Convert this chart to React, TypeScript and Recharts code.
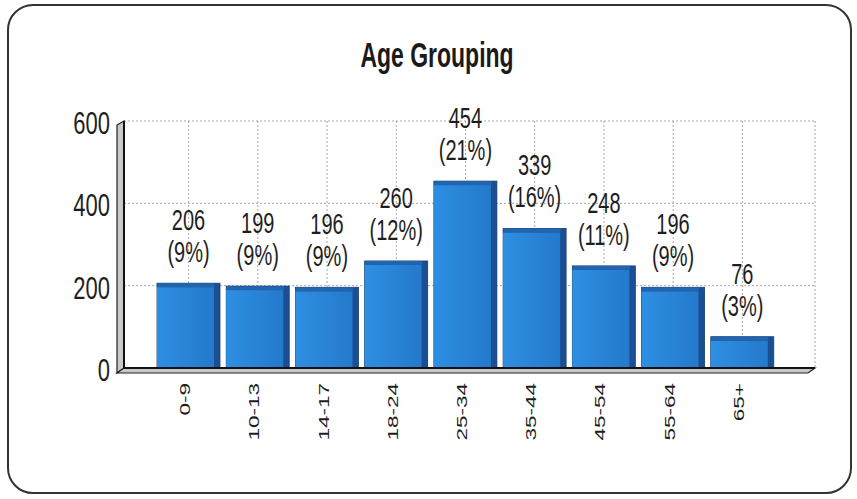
import React from 'react';
import * as R from 'recharts';
import { BarChart, Bar, XAxis, YAxis, CartesianGrid, LabelList, Customized } from 'recharts';

const categories = ['0-9', '10-13', '14-17', '18-24', '25-34', '35-44', '45-54', '55-64', '65+'];
const counts = [206, 199, 196, 260, 454, 339, 248, 196, 76];
const percents = ['9%', '9%', '9%', '12%', '21%', '16%', '11%', '9%', '3%'];
const yTicks = [0, 200, 400, 600];
const title = 'Age Grouping';

const data = categories.map((c, i) => ({ name: c, value: counts[i], pct: percents[i] }));

const FONT = "'Liberation Sans', Arial, sans-serif";
const W = 857;
const H = 499;

const Decor = () => {
  const hook = (R as any).usePlotArea;
  const p = hook ? hook() : null;
  const x = p ? p.x : 124;
  const y = p ? p.y : 121;
  const w = p ? p.width : 691;
  const h = p ? p.height : 247;
  const d = 7;
  return (
    <g>
      <polygon
        points={`${x - d},${y + 4} ${x},${y} ${x},${y + h} ${x - d},${y + h + 5}`}
        fill="#c9c9c9"
        stroke="#222"
        strokeWidth={1.2}
      />
      <polygon
        points={`${x},${y + h} ${x + w},${y + h} ${x + w - d},${y + h + 5} ${x - d},${y + h + 5}`}
        fill="#c9c9c9"
        stroke="#222"
        strokeWidth={1.2}
      />
    </g>
  );
};

const Title = () => (
  <text
    transform={`translate(437, 67) scale(1, 1.5)`}
    textAnchor="middle"
    fontFamily={FONT}
    fontWeight="bold"
    fontSize={23}
    fill="#1a1a1a"
  >
    {title}
  </text>
);

const Bar3D = (props: any) => {
  const { x, y, width, height } = props;
  if (!height || height <= 0) return null;
  const d = 6;
  const t = 4;
  return (
    <g>
      <rect x={x} y={y} width={width} height={height} fill="#1b4f94" stroke="#173c6c" strokeWidth={0.8} />
      <rect x={x} y={y + t} width={width - d} height={height - t} fill="url(#frontGrad)" />
      <rect x={x + 0.5} y={y} width={width - d} height={t} fill="#2164b0" />
    </g>
  );
};

const BarLabel = (props: any) => {
  const { x, y, width, index } = props;
  const cx = x + width / 2;
  return (
    <g fontFamily={FONT} fontSize={20} fill="#1e1e1e">
      <text transform={`translate(${cx}, ${y - 53}) scale(1, 1.5)`} textAnchor="middle">
        {counts[index]}
      </text>
      <text transform={`translate(${cx}, ${y - 21}) scale(1, 1.5)`} textAnchor="middle">
        ({percents[index]})
      </text>
    </g>
  );
};

const XTick = (props: any) => {
  const { x, y, payload } = props;
  return (
    <text
      transform={`translate(${x + 1.5}, ${y}) rotate(-90) scale(1.5, 1)`}
      textAnchor="end"
      fontFamily={FONT}
      fontSize={15}
      fill="#1e1e1e"
    >
      {payload.value}
    </text>
  );
};

const YTick = (props: any) => {
  const { x, y, payload } = props;
  return (
    <text
      transform={`translate(${x}, ${y + 13}) scale(1, 1.45)`}
      textAnchor="end"
      fontFamily={FONT}
      fontSize={22}
      fill="#1e1e1e"
    >
      {payload.value}
    </text>
  );
};

export default function App() {
  return (
    <div style={{ position: 'absolute', left: 0, top: 0, width: W, height: H, background: '#fff' }}>
      <div
        style={{
          position: 'absolute',
          left: 7,
          top: 4,
          width: 841,
          height: 486,
          border: '2px solid #333',
          borderRadius: 26,
          boxSizing: 'content-box',
        }}
      />
      <div style={{ position: 'absolute', left: 0, top: 0 }}>
        <BarChart
          width={W}
          height={H}
          data={data}
          margin={{ top: 121, right: 42, bottom: 61, left: 0 }}
        >
          <defs>
            <linearGradient id="frontGrad" x1="0" y1="0" x2="1" y2="0">
              <stop offset="0%" stopColor="#2e8fe2" />
              <stop offset="100%" stopColor="#2479cc" />
            </linearGradient>
          </defs>
          <Customized component={<Title />} />
          <Customized component={<Decor />} />
          <CartesianGrid stroke="#a8a8a8" strokeDasharray="2 2" />
          <XAxis
            dataKey="name"
            interval={0}
            height={70}
            padding={{ left: 30, right: 38 }}
            tickLine={false}
            tickSize={0}
            tickMargin={15}
            axisLine={{ stroke: '#111', strokeWidth: 2 }}
            tick={<XTick />}
          />
          <YAxis
            width={124}
            domain={[0, 600]}
            ticks={yTicks}
            interval={0}
            tickLine={false}
            tickSize={0}
            tickMargin={14}
            axisLine={{ stroke: '#111', strokeWidth: 2 }}
            tick={<YTick />}
          />
          <Bar dataKey="value" barSize={63} shape={<Bar3D />} isAnimationActive={false}>
            <LabelList dataKey="value" content={<BarLabel />} />
          </Bar>
        </BarChart>
      </div>
    </div>
  );
}
